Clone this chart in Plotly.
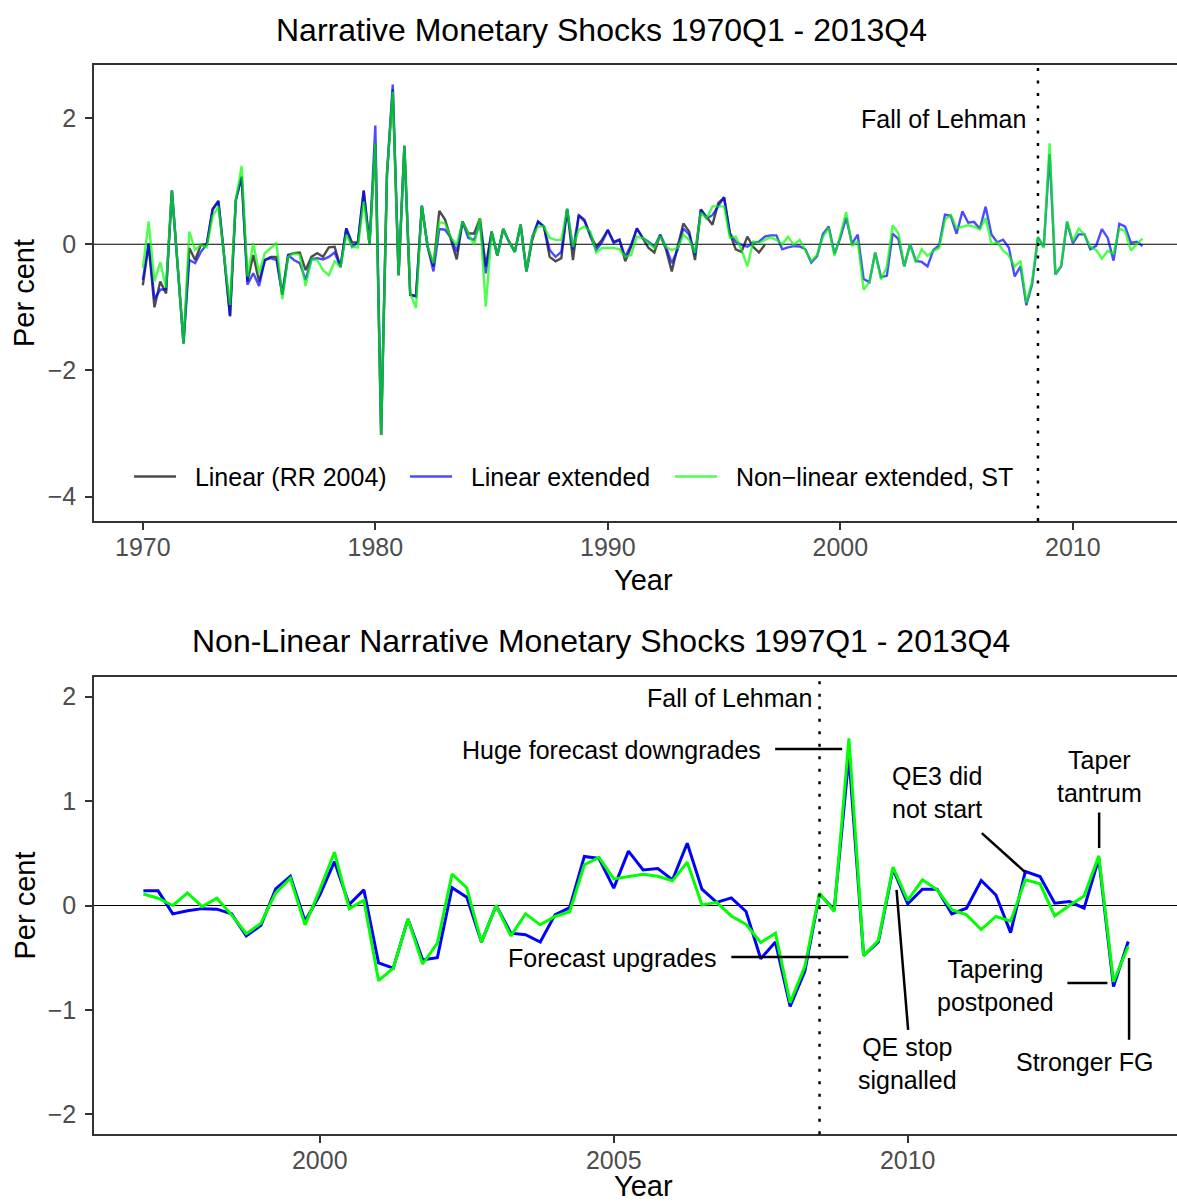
import plotly.graph_objects as go

W, H = 1177, 1202
FONT = "Liberation Sans, Arial, Helvetica, sans-serif"

# ---------------- data ----------------
# Top panel, 1970Q1-1996Q4 (108 quarters)
rr2004 = [
    -0.65, -0.01, -1.00, -0.59, -0.78, 0.85, -0.35, -1.57, -0.06, -0.25,
    -0.01, 0.00, 0.55, 0.68, -0.20, -1.14, 0.70, 1.07, -0.59, -0.17,
    -0.59, -0.25, -0.20, -0.20, -0.80, -0.17, -0.14, -0.13, -0.41, -0.20,
    -0.14, -0.20, -0.05, -0.04, -0.36, 0.25, 0.03, 0.03, 0.85, 0.00,
    1.60, -3.02, 1.10, 2.45, -0.49, 1.56, -0.80, -0.82, 0.61, -0.04,
    -0.35, 0.53, 0.39, 0.08, -0.24, 0.36, 0.17, 0.17, 0.41, -0.35,
    0.20, -0.18, 0.24, 0.04, -0.12, 0.31, -0.43, 0.07, 0.36, 0.28,
    -0.20, -0.27, -0.22, 0.56, -0.25, 0.46, 0.36, 0.15, -0.04, 0.07,
    0.23, 0.04, 0.07, -0.27, -0.04, 0.25, 0.10, -0.06, -0.13, 0.15,
    -0.08, -0.43, -0.04, 0.33, 0.20, -0.25, 0.55, 0.42, 0.31, 0.65,
    0.74, 0.17, -0.08, -0.12, 0.12, -0.04, -0.13, -0.01,
]
linear_ext_7096 = [
    -0.565, 0.02, -0.87, -0.72, -0.71, 0.85, -0.35, -1.57, -0.25, -0.30,
    -0.12, 0.00, 0.555, 0.69, -0.20, -1.14, 0.70, 1.07, -0.64, -0.46,
    -0.66, -0.25, -0.22, -0.25, -0.80, -0.17, -0.25, -0.30, -0.565, -0.24,
    -0.22, -0.24, -0.20, -0.13, -0.36, 0.25, -0.04, 0.03, 0.85, 0.00,
    1.88, -3.02, 1.10, 2.53, -0.49, 1.56, -0.80, -0.83, 0.61, -0.04,
    -0.43, 0.24, 0.23, 0.10, -0.12, 0.36, 0.10, 0.07, 0.33, -0.46,
    0.20, -0.18, 0.24, 0.04, -0.12, 0.31, -0.43, 0.12, 0.36, 0.28,
    -0.09, -0.20, -0.12, 0.56, -0.09, 0.46, 0.39, 0.12, -0.09, 0.03,
    0.22, 0.02, 0.07, -0.20, -0.01, 0.25, 0.10, 0.04, -0.04, 0.15,
    -0.04, -0.30, -0.09, 0.25, 0.15, -0.17, 0.55, 0.41, 0.46, 0.60,
    0.745, 0.17, 0.04, -0.01, -0.04, 0.02, 0.04, 0.12,
]
nonlinear_ext_7096 = [
    -0.38, 0.36, -0.59, -0.285, -0.69, 0.85, -0.35, -1.57, 0.20, -0.09,
    -0.01, -0.05, 0.44, 0.60, -0.20, -0.96, 0.70, 1.24, -0.51, 0.02,
    -0.46, -0.14, -0.06, 0.02, -0.87, -0.20, -0.14, -0.17, -0.66, -0.24,
    -0.25, -0.41, -0.49, -0.27, -0.36, 0.15, -0.04, -0.05, 0.68, 0.00,
    1.60, -3.02, 1.10, 2.42, -0.49, 1.56, -0.78, -1.01, 0.61, -0.04,
    -0.30, 0.35, 0.33, 0.10, -0.01, 0.36, 0.17, -0.01, 0.41, -0.99,
    0.20, -0.18, 0.24, 0.04, -0.12, 0.31, -0.43, 0.12, 0.28, 0.28,
    0.10, 0.07, 0.07, 0.56, -0.04, 0.23, 0.28, 0.20, -0.13, -0.06,
    -0.06, -0.06, -0.08, -0.20, -0.17, 0.12, 0.10, 0.02, -0.06, 0.13,
    -0.05, -0.09, -0.06, 0.15, 0.07, -0.14, 0.50, 0.41, 0.60, 0.60,
    0.60, 0.10, 0.12, -0.09, -0.35, 0.04, 0.02, 0.07,
]
# Bottom panel, 1997Q1-2013Q4 (68 quarters)
linear_ext_9713 = [
    0.14, 0.14, -0.08, -0.05, -0.03, -0.035, -0.08, -0.29, -0.19, 0.16,
    0.28, -0.15, 0.10, 0.42, 0.01, 0.15, -0.55, -0.60, -0.13, -0.52,
    -0.50, 0.17, 0.08, -0.35, 0.00, -0.265, -0.28, -0.35, -0.09, -0.02,
    0.47, 0.45, 0.166, 0.52, 0.34, 0.354, 0.245, 0.596, 0.156, 0.03,
    0.073, -0.057, -0.51, -0.35, -0.967, -0.63, 0.11, -0.04, 1.43, -0.48,
    -0.35, 0.35, 0.016, 0.156, 0.156, -0.08, -0.026, 0.24, 0.10, -0.26,
    0.325, 0.278, 0.022, 0.038, -0.026, 0.45, -0.775, -0.345,
]
nonlinear_ext_9713 = [
    0.11, 0.07, 0.00, 0.12, -0.01, 0.07, -0.09, -0.27, -0.17, 0.12,
    0.26, -0.185, 0.15, 0.51, -0.03, 0.05, -0.72, -0.60, -0.13, -0.56,
    -0.36, 0.30, 0.17, -0.35, 0.00, -0.29, -0.08, -0.185, -0.105, -0.06,
    0.39, 0.46, 0.255, 0.28, 0.30, 0.28, 0.236, 0.415, 0.006, 0.03,
    -0.10, -0.18, -0.354, -0.265, -0.93, -0.584, 0.118, -0.057, 1.60, -0.48,
    -0.335, 0.367, 0.048, 0.246, 0.15, -0.04, -0.09, -0.23, -0.105, -0.15,
    0.246, 0.207, -0.10, 0.00, 0.09, 0.475, -0.73, -0.39,
]
TOP_END_INDEX = 65  # top panel runs to 2013Q1

top_xticks = [1970, 1980, 1990, 2000, 2010]
top_yticks = [-4, -2, 0, 2]
bot_xticks = [2000, 2005, 2010]
bot_yticks = [-2, -1, 0, 1, 2]
lehman = 2008.5

series_names = ["Linear (RR 2004)", "Linear extended", "Non\u2212linear extended, ST"]

# annotations of the lower panel: text, x, y, xanchor
notes = [
    ("Fall of Lehman", 2008.41, 1.99, "right"),
    ("Huge forecast downgrades", 2007.53, 1.49, "right"),
    ("Forecast upgrades", 2006.78, -0.50, "right"),
    ("QE3 did<br>not start", 2010.50, 1.083, "center"),
    ("QE stop<br>signalled", 2009.99, -1.515, "center"),
    ("Taper<br>tantrum", 2013.256, 1.238, "center"),
    ("Tapering<br>postponed", 2011.50, -0.764, "center"),
    ("Stronger FG", 2013.01, -1.50, "center"),
]
# pointer segments: x0, y0, x1, y1
pointers = [
    (2007.745, 1.497, 2008.885, 1.497),
    (2007.00, -0.494, 2008.99, -0.494),
    (2011.26, 0.693, 2011.995, 0.32),
    (2009.81, 0.15, 2010.007, -1.19),
    (2013.256, 0.89, 2013.256, 0.55),
    (2012.716, -0.743, 2013.396, -0.743),
    (2013.765, -0.503, 2013.765, -1.285),
]


def quarters(start, n):
    return [start + k / 4 for k in range(n)]


x_rr = quarters(1970, len(rr2004))
top_lin = linear_ext_7096 + linear_ext_9713[:TOP_END_INDEX]
top_non = nonlinear_ext_7096 + nonlinear_ext_9713[:TOP_END_INDEX]
x_top = quarters(1970, len(top_lin))
x_bot = quarters(1997, len(linear_ext_9713))

PAD = "\u00a0\u00a0"  # gap between legend key and label
fig = go.Figure()
fig.add_trace(go.Scatter(x=x_rr, y=rr2004, mode="lines", name=PAD + series_names[0],
                         line=dict(color="rgba(0,0,0,0.7)", width=2.4),
                         xaxis="x", yaxis="y", legend="legend"))
fig.add_trace(go.Scatter(x=x_top, y=top_lin, mode="lines", name=PAD + series_names[1],
                         line=dict(color="rgba(0,0,255,0.7)", width=2.4),
                         xaxis="x", yaxis="y", legend="legend2"))
fig.add_trace(go.Scatter(x=x_top, y=top_non, mode="lines", name=PAD + series_names[2],
                         line=dict(color="rgba(0,255,0,0.7)", width=2.4),
                         xaxis="x", yaxis="y", legend="legend3"))
fig.add_trace(go.Scatter(x=x_bot, y=linear_ext_9713, mode="lines", showlegend=False,
                         line=dict(color="#0000FF", width=3), xaxis="x2", yaxis="y2"))
fig.add_trace(go.Scatter(x=x_bot, y=nonlinear_ext_9713, mode="lines", showlegend=False,
                         line=dict(color="#00FF00", width=3), xaxis="x2", yaxis="y2"))


def px_x(p):
    return p / W


def px_y(p):
    return 1 - p / H


L = 94
top_px = (65, 521)
bot_px = (676.7, 1134.3)

axis_common = dict(showgrid=False, zeroline=False, showline=True, linecolor="#333333",
                   linewidth=1.5, ticks="outside", ticklen=7, tickwidth=1.5,
                   tickcolor="#333333", tickfont=dict(family=FONT, size=25, color="#4D4D4D"))


def legend_at(px_left):
    return dict(orientation="h", x=px_x(px_left), y=px_y(476.7), xanchor="left",
                yanchor="middle", bgcolor="rgba(0,0,0,0)",
                font=dict(family=FONT, size=25, color="black"), itemwidth=42)


fig.update_layout(
    width=W, height=H, margin=dict(l=0, r=0, t=0, b=0),
    paper_bgcolor="white", plot_bgcolor="white",
    font=dict(family=FONT, color="black"),
    xaxis=dict(domain=[px_x(L), 1], range=[1967.9, 2014.48], tickvals=top_xticks,
               anchor="y", mirror=True, ticklabelstandoff=-4, **axis_common),
    yaxis=dict(domain=[px_y(top_px[1]), px_y(top_px[0])], range=[-4.385, 2.84],
               tickvals=top_yticks, anchor="x", ticklabelstandoff=4, **axis_common),
    xaxis2=dict(domain=[px_x(L), 1], range=[1996.16, 2014.58], tickvals=bot_xticks,
                anchor="y2", mirror=True, ticklabelstandoff=-4, **axis_common),
    yaxis2=dict(domain=[px_y(bot_px[1]), px_y(bot_px[0])], range=[-2.19, 2.19],
                tickvals=bot_yticks, anchor="x2", ticklabelstandoff=4, **axis_common),
    legend=legend_at(129),
    legend2=legend_at(405),
    legend3=legend_at(670),
)

shapes = []
for xa, ya in (("x", "y"), ("x2", "y2")):
    shapes.append(dict(type="line", xref=f"{xa} domain", yref=ya, x0=0, x1=1, y0=0, y1=0,
                       line=dict(color="black", width=1.2), layer="below"))
    shapes.append(dict(type="line", xref=xa, yref=f"{ya} domain", x0=lehman, x1=lehman,
                       y0=0, y1=1, line=dict(color="black", width=2.5, dash="3px,9.5px"),
                       layer="above"))
for x0, y0, x1, y1 in pointers:
    shapes.append(dict(type="line", xref="x2", yref="y2", x0=x0, y0=y0, x1=x1, y1=y1,
                       line=dict(color="black", width=2.5)))
fig.update_layout(shapes=shapes)

ann = []
txt_font = dict(family=FONT, size=25, color="black")
ann.append(dict(text="Fall of Lehman", x=2008.05, y=1.98, xref="x", yref="y",
                xanchor="right", yanchor="middle", showarrow=False, font=txt_font))
for t, x, y, xa in notes:
    ann.append(dict(text=t, x=x, y=y, xref="x2", yref="y2", xanchor=xa, yanchor="middle",
                    showarrow=False, font=txt_font))
# titles
title_font = dict(family=FONT, size=32, color="black")
ann.append(dict(text="Narrative Monetary Shocks 1970Q1 - 2013Q4", x=px_x(601), y=px_y(30),
                xref="paper", yref="paper", xanchor="center", yanchor="middle",
                showarrow=False, font=title_font))
ann.append(dict(text="Non-Linear Narrative Monetary Shocks 1997Q1 - 2013Q4", x=px_x(601),
                y=px_y(641), xref="paper", yref="paper", xanchor="center", yanchor="middle",
                showarrow=False, font=title_font))
axis_font = dict(family=FONT, size=29, color="black")
for yc in (580, 1186):
    ann.append(dict(text="Year", x=px_x(643), y=px_y(yc), xref="paper", yref="paper",
                    xanchor="center", yanchor="middle", showarrow=False, font=axis_font))
for yc in ((top_px[0] + top_px[1]) / 2, (bot_px[0] + bot_px[1]) / 2):
    ann.append(dict(text="Per cent", x=px_x(24), y=px_y(yc), xref="paper", yref="paper",
                    xanchor="center", yanchor="middle", textangle=-90, showarrow=False,
                    font=axis_font))
fig.update_layout(annotations=ann)

fig.write_html("out.html")
